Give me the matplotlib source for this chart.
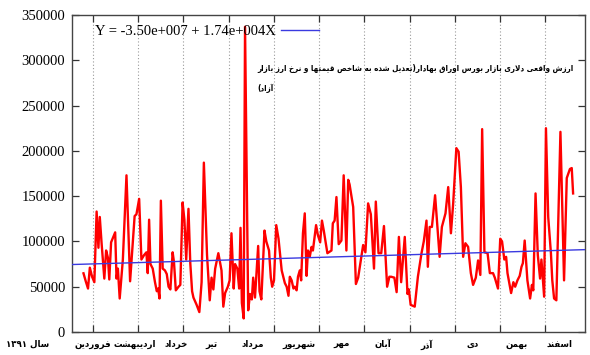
import matplotlib
matplotlib.use('Agg')
import matplotlib.pyplot as plt
import numpy as np

# position of each point in months (1 = start of farvardin tick) and value
months = [0.79, 0.84, 0.89, 0.93, 0.98, 1.03, 1.08, 1.12, 1.15, 1.19,
          1.25, 1.29, 1.33, 1.36, 1.40, 1.44, 1.49, 1.52, 1.55, 1.59,
          1.66, 1.74, 1.82, 1.92, 1.96, 2.02, 2.07, 2.13, 2.18, 2.21,
          2.24, 2.27, 2.32, 2.37, 2.41, 2.44, 2.47, 2.50, 2.54, 2.59,
          2.63, 2.67, 2.71, 2.76, 2.79, 2.83, 2.89, 2.93, 2.98, 3.02,
          3.06, 3.11, 3.15, 3.19, 3.22, 3.29, 3.35, 3.40, 3.45, 3.52,
          3.58, 3.62, 3.66, 3.70, 3.77, 3.84, 3.88, 3.92, 3.98, 4.02,
          4.06, 4.11, 4.14, 4.19, 4.23, 4.26, 4.29, 4.33, 4.36, 4.43,
          4.47, 4.51, 4.54, 4.58, 4.65, 4.68, 4.72, 4.79, 4.83, 4.89,
          4.93, 4.96, 5.00, 5.05, 5.10, 5.17, 5.24, 5.28, 5.32, 5.35,
          5.39, 5.43, 5.46, 5.50, 5.53, 5.57, 5.60, 5.64, 5.68, 5.72,
          5.75, 5.79, 5.83, 5.86, 5.93, 5.97, 6.02, 6.06, 6.10, 6.18,
          6.27, 6.30, 6.34, 6.38, 6.43, 6.49, 6.54, 6.60, 6.64, 6.67,
          6.75, 6.81, 6.86, 6.97, 7.02, 7.08, 7.14, 7.21, 7.25, 7.31,
          7.37, 7.43, 7.50, 7.55, 7.59, 7.66, 7.71, 7.76, 7.81, 7.89,
          7.95, 7.98, 8.02, 8.11, 8.18, 8.26, 8.31, 8.37, 8.40, 8.44,
          8.49, 8.56, 8.66, 8.71, 8.79, 8.85, 8.91, 8.96, 9.03, 9.08,
          9.13, 9.18, 9.23, 9.29, 9.35, 9.40, 9.46, 9.51, 9.56, 9.60,
          9.65, 9.72, 9.77, 9.84, 9.88, 9.95, 10.00, 10.04, 10.09, 10.13,
          10.16, 10.24, 10.29, 10.33, 10.38, 10.43, 10.47, 10.50, 10.54, 10.60,
          10.66, 10.70, 10.73, 10.78, 10.83, 10.88, 10.91, 10.97, 11.01, 11.06,
          11.12, 11.15, 11.19, 11.24, 11.33, 11.41, 11.47, 11.54, 11.58, 11.61]

values = [64800, 56000, 48000, 71000, 61000, 55000, 133000, 93000, 127000, 98000,
          59000, 90000, 82000, 58000, 99000, 104000, 110000, 59000, 70000, 37000,
          80000, 173000, 56000, 128000, 130000, 147000, 80000, 85000, 88000, 65000,
          124000, 75000, 70000, 55000, 45000, 48000, 37000, 145000, 70000, 68000,
          64000, 50000, 47000, 88000, 77000, 46000, 50000, 52000, 143000, 124000,
          80000, 136000, 76000, 45000, 38000, 30000, 22000, 55000, 187000, 85000,
          35000, 60000, 47000, 70000, 87000, 68000, 28000, 43000, 50000, 57000,
          109000, 48000, 75000, 70000, 48000, 115000, 32000, 15000, 337000, 24000,
          42000, 36000, 60000, 38000, 95000, 45000, 36000, 112000, 100000, 90000,
          60000, 50000, 57000, 118000, 103000, 68000, 54000, 50000, 40000, 61000,
          57000, 48000, 50000, 46000, 61000, 68000, 57000, 109000, 131000, 62000,
          90000, 83000, 94000, 90000, 118000, 107000, 99000, 123000, 112000, 87000,
          90000, 120000, 123000, 149000, 97000, 101000, 173000, 90000, 168000, 163000,
          138000, 53000, 60000, 96000, 88000, 142000, 130000, 70000, 144000, 87000,
          87000, 117000, 50000, 61000, 61000, 60000, 44000, 105000, 55000, 105000,
          42000, 47000, 30000, 28000, 61000, 87000, 100000, 123000, 72000, 116000,
          116000, 151000, 83000, 116000, 131000, 160000, 109000, 142000, 203000, 199000,
          160000, 83000, 98000, 94000, 65000, 52000, 60000, 79000, 63000, 224000,
          88000, 87000, 65000, 65000, 60000, 48000, 103000, 100000, 80000, 83000,
          65000, 43000, 55000, 50000, 57000, 62000, 72000, 76000, 101000, 57000,
          37000, 52000, 46000, 153000, 85000, 59000, 80000, 39000, 225000, 127000,
          87000, 57000, 37000, 35000, 221000, 57000, 170000, 180000, 181000, 153000]

# linear fit shown in the legend (slope 1.74e4 per year -> per month)
trend_label = 'Y = -3.50e+007 + 1.74e+004X'
trend_slope = 17400 / 12
trend_base = 73720

month_names = ['فروردین', 'اردیبهشت', 'خرداد', 'تیر', 'مرداد', 'شهریور',
               'مهر', 'آبان', 'آذر', 'دی', 'بهمن', 'اسفند']
month_label_pos = [0.99, 1.93, 2.83, 3.61, 4.54, 5.55, 6.50, 7.41, 8.38, 9.40, 10.37, 11.32]
month_ticks = [1, 2, 3, 4, 5, 6, 7, 8, 9, 10, 11]
year_label = 'سال ۱۳۹۱'
title_line1 = 'ارزش واقعی دلاری بازار بورس اوراق بهادار(تعدیل شده به شاخص قیمتها و نرخ ارز بازار'
title_line2 = 'آزاد)'

# --- minimal arabic shaping (isolated, final, initial, medial) ---
FORMS = {
    'ا': ('\uFE8D', '\uFE8E', None, None),
    'آ': ('\uFE81', '\uFE82', None, None),
    'ب': ('\uFE8F', '\uFE90', '\uFE91', '\uFE92'),
    'ت': ('\uFE95', '\uFE96', '\uFE97', '\uFE98'),
    'خ': ('\uFEA5', '\uFEA6', '\uFEA7', '\uFEA8'),
    'د': ('\uFEA9', '\uFEAA', None, None),
    'ذ': ('\uFEAB', '\uFEAC', None, None),
    'ر': ('\uFEAD', '\uFEAE', None, None),
    'ز': ('\uFEAF', '\uFEB0', None, None),
    'س': ('\uFEB1', '\uFEB2', '\uFEB3', '\uFEB4'),
    'ش': ('\uFEB5', '\uFEB6', '\uFEB7', '\uFEB8'),
    'ص': ('\uFEB9', '\uFEBA', '\uFEBB', '\uFEBC'),
    'ع': ('\uFEC9', '\uFECA', '\uFECB', '\uFECC'),
    'ف': ('\uFED1', '\uFED2', '\uFED3', '\uFED4'),
    'ق': ('\uFED5', '\uFED6', '\uFED7', '\uFED8'),
    'ل': ('\uFEDD', '\uFEDE', '\uFEDF', '\uFEE0'),
    'م': ('\uFEE1', '\uFEE2', '\uFEE3', '\uFEE4'),
    'ن': ('\uFEE5', '\uFEE6', '\uFEE7', '\uFEE8'),
    'ه': ('\uFEE9', '\uFEEA', '\uFEEB', '\uFEEC'),
    'و': ('\uFEED', '\uFEEE', None, None),
    'ی': ('\uFBFC', '\uFBFD', '\uFBFE', '\uFBFF'),
}
LAM_ALEF = {'ا': ('\uFEFB', '\uFEFC'), 'آ': ('\uFEF5', '\uFEF6')}


def shape(text):
    out = []
    i = 0
    n = len(text)
    while i < n:
        c = text[i]
        if c not in FORMS:
            out.append(c)
            i += 1
            continue
        prev = text[i - 1] if i > 0 else ''
        joins_prev = prev in FORMS and FORMS[prev][2] is not None
        if c == 'ل' and i + 1 < n and text[i + 1] in LAM_ALEF:
            out.append(LAM_ALEF[text[i + 1]][1 if joins_prev else 0])
            i += 2
            continue
        nxt = text[i + 1] if i + 1 < n else ''
        joins_next = FORMS[c][2] is not None and nxt in FORMS
        iso, fin, ini, med = FORMS[c]
        if joins_prev and joins_next:
            out.append(med)
        elif joins_prev:
            out.append(fin)
        elif joins_next:
            out.append(ini)
        else:
            out.append(iso)
        i += 1
    return ''.join(out)


def rtl(text):
    s = shape(text)[::-1]
    s = s.translate(str.maketrans('()', ')('))
    # keep digit runs in their own order
    res, run = [], []
    for ch in s:
        if ch.isdigit():
            run.append(ch)
        else:
            res.extend(run[::-1])
            run = []
            res.append(ch)
    res.extend(run[::-1])
    return ''.join(res)


fig = plt.figure(figsize=(5.9, 3.55), dpi=100)
ax = fig.add_axes([72 / 590, 1 - 332 / 355, 513 / 590, 317 / 355])

x_left, x_right = 0.536, 11.873
ax.set_xlim(x_left, x_right)
ax.set_ylim(0, 350000)

for m in month_ticks:
    ax.axvline(m, color='#9a9a9a', lw=0.8, ls=(0, (1, 2)), zorder=1)

ax.plot(months, values, color='#ff0000', lw=1.7, zorder=3)

tx = np.array([x_left, x_right])
ax.plot(tx, trend_base + trend_slope * tx, color='#3a3ae0', lw=1.0, zorder=4,
        label=trend_label)

ax.set_xticks(month_ticks)
ax.set_xticklabels([])
ax.set_yticks(np.arange(0, 350001, 50000))
ax.set_yticklabels([str(v) for v in range(0, 350001, 50000)],
                   family='Liberation Serif', fontsize=10.5)
ax.tick_params(direction='in', length=5, width=0.9, top=True, right=True,
               color='#333333', pad=5)
for sp in ax.spines.values():
    sp.set_color('#444444')
    sp.set_linewidth(1.0)

leg = ax.legend(loc='upper right', bbox_to_anchor=(0.487, 0.978),
                frameon=False, markerfirst=False, handlelength=2.6,
                handletextpad=0.35, borderaxespad=0, borderpad=0.2,
                prop={'family': 'Liberation Serif', 'size': 10.5})

pfont = {'family': 'DejaVu Sans', 'weight': 'bold', 'size': 5.8,
         'stretch': 'condensed'}
ax.text(11.61, 291000, rtl(title_line1), ha='right', va='center', **pfont)
ax.text(4.63, 269000, rtl(title_line2), ha='left', va='center', **pfont)

lfont = {'family': 'DejaVu Sans', 'weight': 'bold', 'size': 6.2}
for name, pos in zip(month_names, month_label_pos):
    ax.text(pos, -13500, rtl(name), ha='center', va='center', clip_on=False,
            **lfont)
ax.text(-0.45, -13500, rtl(year_label), ha='center', va='center',
        clip_on=False, **lfont)

fig.savefig('out.png', dpi=100)
